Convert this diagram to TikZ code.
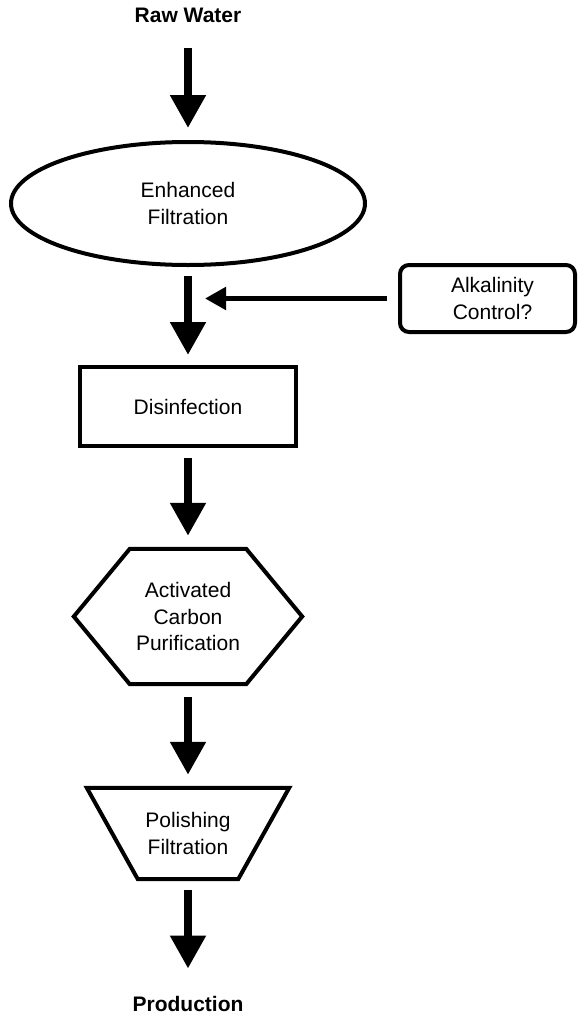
\documentclass[tikz,border=0pt]{standalone}
\usepackage{fontspec}
\setmainfont{Liberation Sans}
\usetikzlibrary{arrows.meta,shapes.geometric}
\begin{document}
\begin{tikzpicture}[x=1pt,y=-1pt,
  txt/.style={align=center,font=\fontsize{21}{26.5}\selectfont,inner sep=0pt},
  lbl/.style={font=\bfseries\fontsize{21}{25}\selectfont,inner sep=0pt,anchor=base},
  shp/.style={txt,draw,line width=4pt},
  flow/.style={line width=8pt,-{Triangle[width=34pt,length=33pt]}},
  side/.style={line width=5pt,-{Triangle[width=22pt,length=21pt]}}
]
\useasboundingbox (0,0) rectangle (578,1017);
\node[lbl] (raw) at (188,23) {Raw Water};
\node[shp,ellipse,minimum width=354pt,minimum height=123pt] (ell) at (188,203.5) {Enhanced\\Filtration};
\node[shp,rounded corners=9pt,minimum width=175pt,minimum height=67pt] (alk) at (487.5,298.5) {\hspace*{10pt}Alkalinity\\\hspace*{10pt}Control?};
\coordinate (aIn) at (205,298.5);
\node[shp,minimum width=216pt,minimum height=79pt] (dis) at (188,406.5) {Disinfection};
\node[txt,minimum width=228pt,minimum height=135pt] (hex) at (188,616.5) {Activated\\Carbon\\Purification};
\draw[line width=4pt] (hex.west) -- ([xshift=56pt]hex.north west) -- ([xshift=-56pt]hex.north east) -- (hex.east) -- ([xshift=-56pt]hex.south east) -- ([xshift=56pt]hex.south west) -- cycle;
\node[txt,minimum width=202pt,minimum height=91pt] (trap) at (188,833.5) {Polishing\\Filtration};
\draw[line width=4pt] (trap.north west) -- (trap.north east) -- ([xshift=-51pt]trap.south east) -- ([xshift=51pt]trap.south west) -- cycle;
\node[lbl] (prod) at (188,1011) {Production};

\draw[flow,shorten <=25pt,shorten >=12pt] (raw.south -| ell.north) -- (ell.north);
\draw[flow,shorten <=9pt,shorten >=10pt] (ell.south) -- (dis.north);
\draw[flow,shorten <=10pt,shorten >=13pt] (dis.south) -- (hex.north);
\draw[flow,shorten <=13pt,shorten >=13pt] (hex.south) -- (trap.north);
\draw[flow,shorten <=11pt,shorten >=27pt] (trap.south) -- (prod.north);
\draw[side,shorten <=11pt] (alk.west) -- (aIn);
\end{tikzpicture}
\end{document}
